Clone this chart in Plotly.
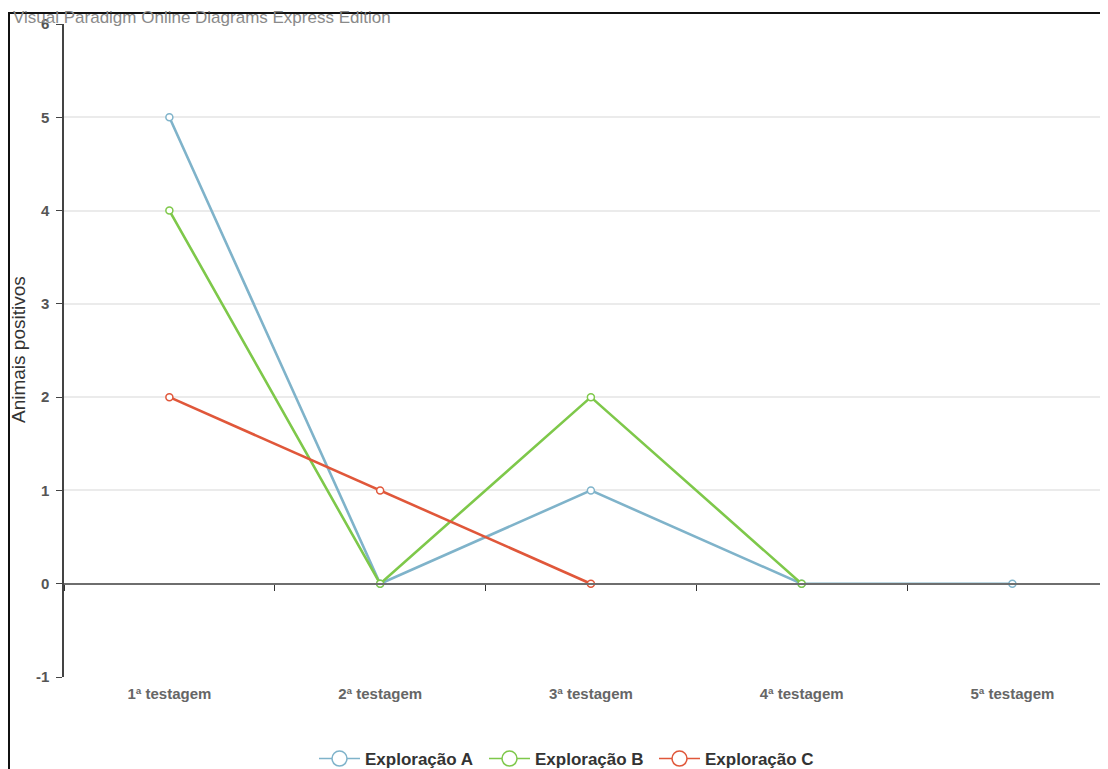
import plotly.graph_objects as go

categories = ["1ª testagem", "2ª testagem", "3ª testagem", "4ª testagem", "5ª testagem"]
series_names = ["Exploração A", "Exploração B", "Exploração C"]
values_a = [5, 0, 1, 0, 0]
values_b = [4, 0, 2, 0, None]
values_c = [2, 1, 0, None, None]
colors = ["#7fb3ca", "#7ec84a", "#e0573a"]
y_ticks = [-1, 0, 1, 2, 3, 4, 5, 6]
y_tick_text = ["-1", "0", "1", "2", "3", "4", "5", "6"]

# page body has an 8px margin, so the figure is drawn 8px in from the window
W, H = 1100, 761
L, R, T, B = 56, 0, 16, 92
pw = W - L - R
ph = H - T - B
cat_px = 210.75

fig = go.Figure()
for name, vals, col in zip(series_names, [values_a, values_b, values_c], colors):
    fig.add_trace(go.Scatter(
        x=categories, y=vals, name=name, mode="lines+markers",
        line=dict(color=col, width=2.6),
        marker=dict(symbol="circle", size=7, color="white",
                    line=dict(color=col, width=1.5)),
        connectgaps=False, showlegend=False,
    ))
# legend entries with larger open circles
for name, col in zip(series_names, colors):
    fig.add_trace(go.Scatter(
        x=[categories[0]], y=[None], name=name, mode="lines+markers",
        line=dict(color=col, width=1.5),
        marker=dict(symbol="circle", size=15, color="white",
                    line=dict(color=col, width=1.5)),
        showlegend=True, hoverinfo="skip",
    ))

# helper axis drawn at y=0 with ticks on category boundaries
fig.add_trace(go.Scatter(x=categories, y=[None] * len(categories), xaxis="x2",
                         showlegend=False, hoverinfo="skip"))

xr = [-0.5, -0.5 + pw / cat_px]
fig.update_layout(
    width=W, height=H,
    margin=dict(l=L, r=R, t=T, b=B, pad=0, autoexpand=False),
    paper_bgcolor="white", plot_bgcolor="white",
    font=dict(family="Liberation Sans, Arial, sans-serif"),
    xaxis=dict(type="category", categoryorder="array", categoryarray=categories,
               range=xr, showgrid=False, zeroline=False, showline=False, ticks="",
               tickfont=dict(size=15, color="#666666", weight="bold"),
               ticklabelstandoff=6, automargin=False),
    xaxis2=dict(type="category", categoryorder="array", categoryarray=categories,
                overlaying="x", anchor="free", position=1 / 7.0,
                range=xr, showgrid=False, zeroline=False, showline=True,
                linecolor="#6e6e6e", linewidth=2, ticks="outside",
                tickson="boundaries", ticklen=6, tickwidth=1, tickcolor="#333333",
                showticklabels=False),
    yaxis=dict(range=[-1, 6], tickvals=y_ticks, ticktext=y_tick_text,
               showgrid=True, gridcolor="#ebebeb",
               gridwidth=2, zeroline=False, showline=True, linecolor="#444444",
               linewidth=1.5, ticks="outside", ticklen=6, tickcolor="#444444",
               tickfont=dict(size=15, color="#555555", weight="bold"),
               ticklabelstandoff=4, automargin=False),
    showlegend=True,
    legend=dict(orientation="h", x=(561 - L) / pw, xanchor="center",
                y=-(751 - (T + ph)) / ph, yanchor="middle",
                font=dict(size=17, color="#333333", weight="bold"),
                bgcolor="rgba(0,0,0,0)", itemwidth=41, entrywidth=114,
                tracegroupgap=0),
)

# y axis title
fig.add_annotation(text="Animais positivos", xref="paper", yref="paper",
                   x=(10 - L) / pw, y=1 - (342 - T) / ph, textangle=-90,
                   showarrow=False, xanchor="center", yanchor="middle",
                   font=dict(size=19, color="#333333"))
# watermark
fig.add_annotation(text="Visual Paradigm Online Diagrams Express Edition",
                   xref="paper", yref="paper", x=(3 - L) / pw,
                   y=1 - (10 - T) / ph, showarrow=False,
                   xanchor="left", yanchor="middle",
                   font=dict(size=17, color="#8a8a8a"))
# frame border
fig.add_shape(type="rect", xref="paper", yref="paper",
              x0=(1 - L) / pw, x1=(W + 20 - L) / pw,
              y0=1 - (H + 20 - T) / ph, y1=1 - (5 - T) / ph,
              line=dict(color="#111111", width=2), layer="above")

fig.write_html("out.html")
